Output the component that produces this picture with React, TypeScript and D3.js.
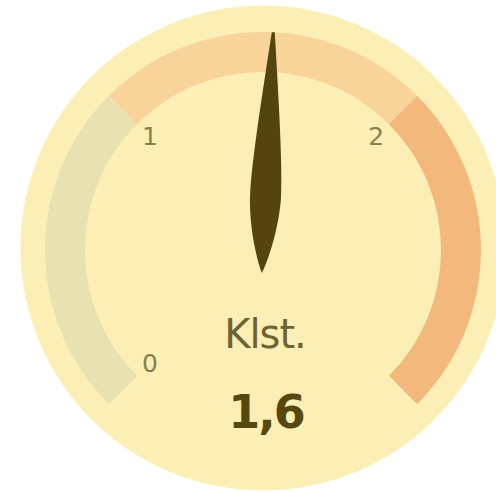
import React from 'react';
import * as d3 from 'd3';

// gauge bands: [from, to] in hours
const bandStarts = [0, 1, 2];
const bandEnds = [1, 2, 3];
const bandColors = ['#e9e2b0', '#f8d49a', '#f3b87c'];
const tickValues = [0, 1, 2];
const tickLabels = ['0', '1', '2'];
const needleReading = 1.53;
const unitLabel = 'Klst.';
const valueLabel = '1,6';

const App = () => {
	const width = 496;
	const height = 492;
	const cx = 263;
	const cy = 250;
	const outerR = 218;
	const innerR = 178;

	const angle = d3
		.scaleLinear()
		.domain([0, 3])
		.range([(-135 * Math.PI) / 180, (135 * Math.PI) / 180]);

	const arc = d3.arc<any>().innerRadius(innerR).outerRadius(outerR);

	// leaf shaped needle, pointing up, pivot at 0,0
	const needle = d3.path();
	needle.moveTo(-1.5, -218);
	needle.bezierCurveTo(-7, -165, -15.5, -90, -15.5, -55);
	needle.bezierCurveTo(-15.5, -25, -6, 10, 0, 23);
	needle.bezierCurveTo(6, 10, 15.5, -25, 15.5, -55);
	needle.bezierCurveTo(15.5, -90, 7, -165, 1.5, -218);
	needle.closePath();

	const needleDeg = (angle(needleReading) * 180) / Math.PI;

	return (
		<div style={{ position: 'fixed', left: 0, top: 0 }}>
			<svg width={width} height={height} style={{ display: 'block' }}>
				<rect width={width} height={height} fill='#ffffff' />
				<circle cx={cx} cy={cy - 2} r={242.5} fill='#fcefb6' />
				<g transform={`translate(${cx},${cy})`}>
					{/* bands */}
					{bandStarts.map((s, i) => (
						<path
							key={'band' + i}
							d={arc({ startAngle: angle(s), endAngle: angle(bandEnds[i]) }) as string}
							fill={bandColors[i]}
						/>
					))}
					{/* tick labels */}
					{tickValues.map((v, i) => {
						const a = angle(v);
						const r = 160;
						return (
							<text
								key={'tick' + v}
								x={r * Math.sin(a)}
								y={-r * Math.cos(a)}
								textAnchor='middle'
								dominantBaseline='central'
								fontFamily='DejaVu Sans'
								fontSize={25}
								fill='#8a7e4e'
							>
								{tickLabels[i]}
							</text>
						);
					})}
					{/* needle */}
					<path
						d={needle.toString()}
						transform={`rotate(${needleDeg})`}
						fill='#554410'
					/>
					{/* labels */}
					<text
						x={2}
						y={98}
						textAnchor='middle'
						fontFamily='DejaVu Sans'
						fontSize={40}
						letterSpacing={-1}
						fill='#6e6332'
					>
						{unitLabel}
					</text>
					<text
						x={3}
						y={178}
						textAnchor='middle'
						fontFamily='DejaVu Sans'
						fontWeight='bold'
						fontSize={46}
						letterSpacing={-2}
						fill='#574810'
					>
						{valueLabel}
					</text>
				</g>
			</svg>
		</div>
	);
};

export default App;
